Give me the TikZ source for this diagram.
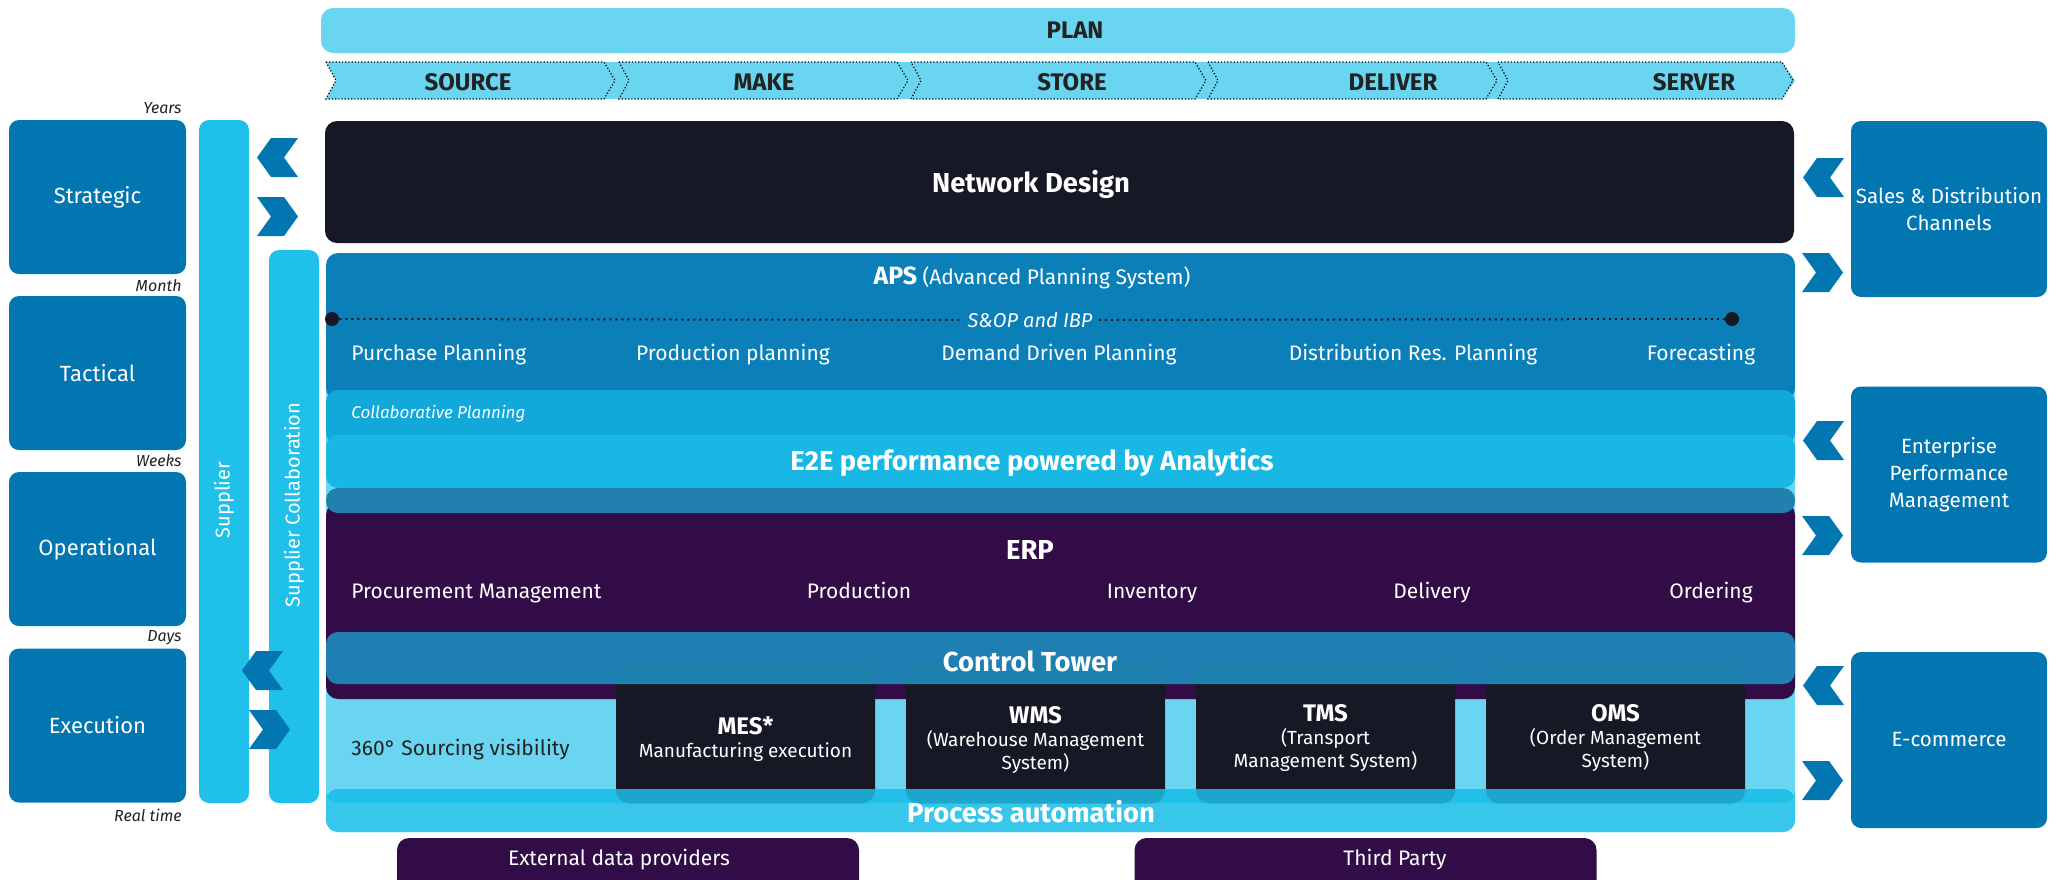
\documentclass[tikz,border=0pt]{standalone}
\usepackage{fontspec}
\setmainfont{Fira Sans}
\usetikzlibrary{calc}

\definecolor{cian}{HTML}{6AD5F0}
\definecolor{azul}{HTML}{0276B1}
\definecolor{celeste}{HTML}{1FC0EA}
\definecolor{noche}{HTML}{161826}
\definecolor{apsazul}{HTML}{0A7FB8}
\definecolor{colab}{HTML}{12A9DA}
\definecolor{analitica}{HTML}{19B7E4}
\definecolor{franja}{HTML}{2180B0}
\definecolor{morado}{HTML}{320C46}
\definecolor{torre}{HTML}{1E94C5}
\definecolor{proceso}{HTML}{38C6EA}
\definecolor{raya}{HTML}{1EBFE8}
\definecolor{tinta}{HTML}{222222}

\tikzset{
  caja/.style={fill=azul, rounded corners=5pt, inner sep=0pt, outer sep=0pt,
    text=white, align=center, font=\fontsize{11}{13.5}\selectfont},
  horizonte/.style={caja, minimum width=88.5pt, minimum height=77pt},
  canal/.style={caja, minimum width=98pt, minimum height=88pt,
    font=\fontsize{10.3}{13.5}\selectfont},
  barra/.style={fill=celeste, rounded corners=5pt, inner sep=0pt, minimum width=25pt},
  vertical/.style={rotate=90, text=white, font=\fontsize{10}{12}\selectfont},
  tiempo/.style={anchor=east, inner sep=0pt, text=tinta,
    font=\fontsize{8}{10}\selectfont\itshape},
  etapa/.style={text=tinta, font=\fontsize{12}{14}\selectfont\bfseries},
  puntos/.style={densely dotted, line width=0.6pt, black},
  titulo/.style={text=white, font=\fontsize{13.7}{16}\selectfont\bfseries},
  item/.style={text=white, inner sep=0pt, text height=8pt, text depth=2.2pt,
    font=\fontsize{10.5}{12}\selectfont},
  modulo/.style={fill=noche, rounded corners=6pt, minimum width=129.5pt,
    minimum height=70pt, inner sep=0pt},
  modtxt/.style={text=white, align=center, font=\fontsize{9.5}{11.5}\selectfont},
  punto/.style={circle, fill=noche, minimum size=7pt, inner sep=0pt},
  linea/.style={dotted, line width=1pt, noche},
  externo/.style={fill=morado, rounded corners=6pt, minimum width=231pt,
    minimum height=31pt, inner sep=0pt}
}

% flechas tipo chevron (x, y arriba)
\newcommand{\flechaizq}[2]{\fill[azul] (#1,#2+19.5) -- (#1+14,#2) -- (#1+41,#2)
  -- (#1+27,#2+19.5) -- (#1+41,#2+39) -- (#1+14,#2+39) -- cycle;}
\newcommand{\flechader}[2]{\fill[azul] (#1,#2) -- (#1+27,#2) -- (#1+41,#2+19.5)
  -- (#1+27,#2+39) -- (#1,#2+39) -- (#1+14,#2+19.5) -- cycle;}

\begin{document}
\begin{tikzpicture}[x=0.5pt, y=-0.5pt]
  \useasboundingbox (0,0) rectangle (2049,879);

  % Horizontes
  \node[horizonte] (strat) at (97.5,197) {Strategic};
  \node[horizonte] (tact) at (97.5,373) {Tactical};
  \node[horizonte] (oper) at (97.5,549) {Operational};
  \node[horizonte] (exec) at (97.5,725.5) {Execution};
  \foreach \t/\y in {Years/108, Month/286, Weeks/461, Days/638, Real time/815}
    \node[tiempo] (t\y) at (182,\y) {\t};

  % Proveedores
  \node[barra, minimum height=341.5pt] (sup) at (224,461.5) {};
  \node[barra, minimum height=276.5pt] (supcol) at (294,526.5) {};
  \node[vertical] (supT) at (224,500) {Supplier};
  \node[vertical] (supcolT) at (294,505) {Supplier Collaboration};
  \flechaizq{257}{138}
  \flechader{257}{197}
  \flechaizq{242}{651}
  \flechader{249}{710}

  % PLAN
  \node[fill=cian, rounded corners=6pt, minimum width=737pt, minimum height=22.5pt,
    inner sep=0pt] (plan) at (1058,30.5) {};
  \node[etapa] (planT) at (1075,30) {PLAN};

  % Etapas
  \fill[cian] (326,62) -- (1782,62) -- (1795,80.5) -- (1782,99) -- (326,99)
    -- (336,80.5) -- cycle;
  \foreach \a/\b in {326/604, 619/897, 911/1195, 1208/1486, 1498/1782}
    \draw[puntos] (\a,62) -- (\b,62) -- (\b+11,80.5) -- (\b,99) -- (\a,99)
      -- (\a+10,80.5) -- cycle;
  \foreach \n/\x in {SOURCE/468, MAKE/764, STORE/1072, DELIVER/1393, SERVER/1694}
    \node[etapa] (\n) at (\x,82) {\n};

  % Network Design
  \node[fill=noche, rounded corners=6pt, minimum width=734.5pt, minimum height=61pt,
    inner sep=0pt] (red) at (1059.5,182) {};
  \node[titulo] (redT) at (1031,184) {Network Design};

  % Capas
  \fill[cian, rounded corners=6pt] (326,380) rectangle (1795,832);
  \fill[apsazul, rounded corners=6pt] (326,253) rectangle (1795,400);
  \fill[colab, rounded corners=6pt] (326,390) rectangle (1795,445);
  \fill[analitica, rounded corners=6pt] (326,435) rectangle (1795,488);
  \fill[morado, rounded corners=6pt] (326,503) rectangle (1795,699);
  \fill[franja, rounded corners=6pt] (326,488) rectangle (1795,513);
  \fill[proceso, rounded corners=6pt] (326,789) rectangle (1795,832);

  % Modulos
  \foreach \n/\x in {mes/745.5, wms/1035.5, tms/1325.5, oms/1615.5}
    \node[modulo] (\n) at (\x,733) {};
  \fill[torre, fill opacity=0.85, rounded corners=6pt] (326,632) rectangle (1795,684);
  \fill[raya, fill opacity=0.85, rounded corners=6pt] (326,789) rectangle (1795,803);

  % APS
  \node[text=white] (apsT) at (1032,278)
    {{\fontsize{12.5}{14}\selectfont\bfseries APS}
     {\fontsize{10.5}{12}\selectfont (Advanced Planning System)}};
  \node[punto] (p1) at (332,319) {};
  \node[punto] (p2) at (1732,319) {};
  \node[fill=apsazul, inner sep=3pt, text=white,
    font=\fontsize{10}{12}\selectfont\itshape] (sop) at (1030,320) {S\&OP and IBP};
  \draw[linea] (p1) -- (sop);
  \draw[linea] (sop) -- (p2);
  \node[item, anchor=west] (pp) at (351,355) {Purchase Planning};
  \node[item] (prp) at (733,355) {Production planning};
  \node[item] (ddp) at (1059,355) {Demand Driven Planning};
  \node[item] (drp) at (1413,355) {Distribution Res. Planning};
  \node[item] (fc) at (1701,355) {Forecasting};
  \node[item, anchor=west, font=\fontsize{8.5}{10}\selectfont\itshape] (cp)
    at (351,413) {Collaborative Planning};
  \node[titulo] (e2e) at (1032,462) {E2E performance powered by Analytics};

  % ERP
  \node[titulo] (erp) at (1030,550) {ERP};
  \node[item, anchor=west] (pm) at (351,593) {Procurement Management};
  \node[item] (prod) at (859,593) {Production};
  \node[item] (inv) at (1152,593) {Inventory};
  \node[item] (del) at (1432,593) {Delivery};
  \node[item] (ord) at (1711,593) {Ordering};
  \node[titulo] (ct) at (1030,661) {Control Tower};

  % Ejecucion
  \node[item, anchor=west, text=tinta] (sv) at (351,750) {360° Sourcing visibility};
  \node[modtxt] (mesT) at (745.5,739)
    {{\fontsize{12}{14}\selectfont\bfseries MES*}\\Manufacturing execution};
  \node[modtxt] (wmsT) at (1035.5,740)
    {{\fontsize{12}{14}\selectfont\bfseries WMS}\\(Warehouse Management\\System)};
  \node[modtxt] (tmsT) at (1325.5,738)
    {{\fontsize{12}{14}\selectfont\bfseries TMS}\\(Transport\\Management System)};
  \node[modtxt] (omsT) at (1615.5,738)
    {{\fontsize{12}{14}\selectfont\bfseries OMS}\\(Order Management\\System)};
  \node[titulo] (pa) at (1031,812) {Process automation};

  % Fuentes externas
  \node[externo] (ext) at (628,869) {};
  \node[item] (extT) at (619,860) {External data providers};
  \node[externo] (tp) at (1365.5,869) {};
  \node[item] (tpT) at (1395,860) {Third Party};

  % Canales
  \node[canal] (sales) at (1949,209) {Sales \& Distribution\\Channels};
  \node[canal] (epm) at (1949,474.5) {Enterprise\\Performance\\Management};
  \node[canal] (ecom) at (1949,740) {E-commerce};
  \foreach \y in {158, 421, 666} {\flechaizq{1803}{\y}}
  \foreach \y in {253, 516, 761} {\flechader{1802}{\y}}

\end{tikzpicture}
\end{document}
